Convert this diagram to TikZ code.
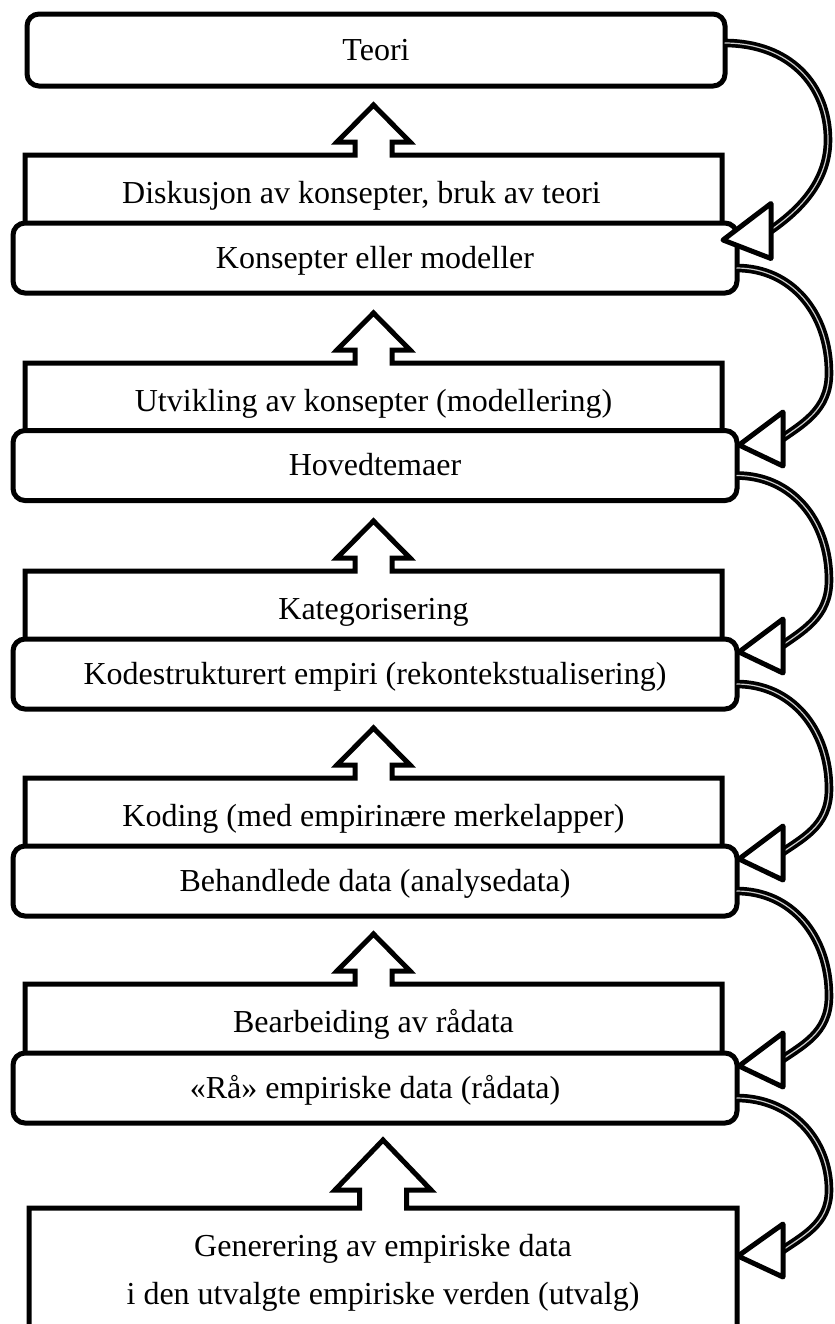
\documentclass[tikz,border=0pt]{standalone}
\usepackage{fontspec}
\setmainfont{Liberation Serif}
\usetikzlibrary{calc}

% drawing unit: one grid step
\newlength\px
\setlength\px{0.5pt}

\tikzset{
  txt/.style={font=\fontsize{16}{24}\selectfont},
  rbox/.style={txt, draw, fill=white, line width=5\px, rounded corners=12\px,
    minimum width=724\px, minimum height=70\px, inner sep=0pt,
    text height=12.5pt, text depth=2.5pt},
  panel/.style={txt, inner sep=0pt, outer sep=0pt, minimum width=697\px,
    minimum height=76\px, text height=12.5pt, text depth=2.5pt},
  panelline/.style={draw, line width=5\px, line join=miter},
  link/.style={line width=3.7\px, double=black!20, double distance=1.2\px},
  headtri/.style={draw, fill=white, line width=5\px, line join=round},
}

% outline of a step panel whose top edge carries an upward block arrow
% #1 node, #2 shaft half width, #3 head half width, #4 shoulder rise, #5 apex rise
\newcommand\panelframe[5]{%
  \draw[panelline] (#1.south west) -- (#1.north west)
    -- ($(#1.north)+(-#2,0)$) -- ($(#1.north)+(-#2,-#4)$) -- ($(#1.north)+(-#3,-#4)$)
    -- ($(#1.north)+(0,-#5)$)
    -- ($(#1.north)+(#3,-#4)$) -- ($(#1.north)+(#2,-#4)$) -- ($(#1.north)+(#2,0)$)
    -- (#1.north east) -- (#1.south east);}

\begin{document}
\begin{tikzpicture}[x=\px, y=-\px]
\path[use as bounding box, fill=white] (0,0) rectangle (835,1324);

% step panels (process stages)
\node[panel] (p1) at (373.5,193) {Diskusjon av konsepter, bruk av teori\kern24\px};
\node[panel] (p2) at (373.5,401) {Utvikling av konsepter (modellering)};
\node[panel] (p3) at (373.5,609) {Kategorisering};
\node[panel] (p4) at (373.5,816) {Koding (med empirinære merkelapper)};
\node[panel] (p5) at (373.5,1022) {Bearbeiding av rådata};
\node[panel, minimum width=708\px, minimum height=130\px, text height=, text depth=,
  align=center] (p6) at (383,1273)
  {Generering av empiriske data\\i den utvalgte empiriske verden (utvalg)};

\panelframe{p1}{18.5}{36.5}{13}{50}
\panelframe{p2}{18.5}{36.5}{13}{50}
\panelframe{p3}{18.5}{36.5}{13}{50}
\panelframe{p4}{18.5}{36.5}{13}{50}
\panelframe{p5}{18.5}{36.5}{13}{50}
\panelframe{p6}{23.5}{48}{18}{68}

% result boxes
\node[rbox, minimum width=698\px, minimum height=72\px] (teori) at (376,50) {Teori};
\node[rbox] (konsepter) at (375,258) {Konsepter eller modeller};
\node[rbox] (hoved) at (375,465.5) {Hovedtemaer};
\node[rbox] (kode) at (375,674) {Kodestrukturert empiri (rekontekstualisering)};
\node[rbox] (behandl) at (375,881) {Behandlede data (analysedata)};
\node[rbox] (raa) at (375,1088) {«Rå» empiriske data (rådata)};

% curve anchors
\coordinate (s1) at ($(teori.east)+(-3,-7)$);
\coordinate (s2) at ($(konsepter.east)+(-3,10)$);
\coordinate (s3) at ($(hoved.east)+(-3,10)$);
\coordinate (s4) at ($(kode.east)+(-3,10)$);
\coordinate (s5) at ($(behandl.east)+(-3,10)$);
\coordinate (s6) at ($(raa.east)+(-3,10)$);

\coordinate (m1) at (828,140);
\coordinate (m2) at (829,373);
\coordinate (m3) at (829,580);
\coordinate (m4) at (829,789);
\coordinate (m5) at (829,996);
\coordinate (m6) at (829,1190);

\coordinate (b1) at (771,231);
\coordinate (b2) at (783,439);
\coordinate (b3) at (783,646);
\coordinate (b4) at (783,853);
\coordinate (b5) at (783,1060);
\coordinate (b6) at (783,1251);

% feedback curves
\draw[link] (s1) .. controls +(65,0) and +(0,-55) .. (m1)
  .. controls +(0,45) and +(30,-20) .. ($(b1)+(-6,3)$);
\draw[link] (s2) .. controls +(55,0) and +(0,-60) .. (m2)
  .. controls +(0,38) and +(25,-18) .. ($(b2)+(-6,3)$);
\draw[link] (s3) .. controls +(55,0) and +(0,-60) .. (m3)
  .. controls +(0,38) and +(25,-18) .. ($(b3)+(-6,3)$);
\draw[link] (s4) .. controls +(55,0) and +(0,-60) .. (m4)
  .. controls +(0,38) and +(25,-18) .. ($(b4)+(-6,3)$);
\draw[link] (s5) .. controls +(55,0) and +(0,-60) .. (m5)
  .. controls +(0,38) and +(25,-18) .. ($(b5)+(-6,3)$);
\draw[link] (s6) .. controls +(55,0) and +(0,-50) .. (m6)
  .. controls +(0,35) and +(25,-18) .. ($(b6)+(-6,3)$);

% open arrow heads
\draw[headtri] ($(b1)+(0,-27.5)$) -- ($(b1)+(-48,9)$) -- ($(b1)+(0,27.5)$) -- cycle;
\draw[headtri] ($(b2)+(0,-27)$) -- ($(b2)+(-44,6)$) -- ($(b2)+(0,27)$) -- cycle;
\draw[headtri] ($(b3)+(0,-27)$) -- ($(b3)+(-44,6)$) -- ($(b3)+(0,27)$) -- cycle;
\draw[headtri] ($(b4)+(0,-27)$) -- ($(b4)+(-44,6)$) -- ($(b4)+(0,27)$) -- cycle;
\draw[headtri] ($(b5)+(0,-27)$) -- ($(b5)+(-44,6)$) -- ($(b5)+(0,27)$) -- cycle;
\draw[headtri] ($(b6)+(0,-27)$) -- ($(b6)+(-45,5)$) -- ($(b6)+(0,26)$) -- cycle;
\end{tikzpicture}
\end{document}
